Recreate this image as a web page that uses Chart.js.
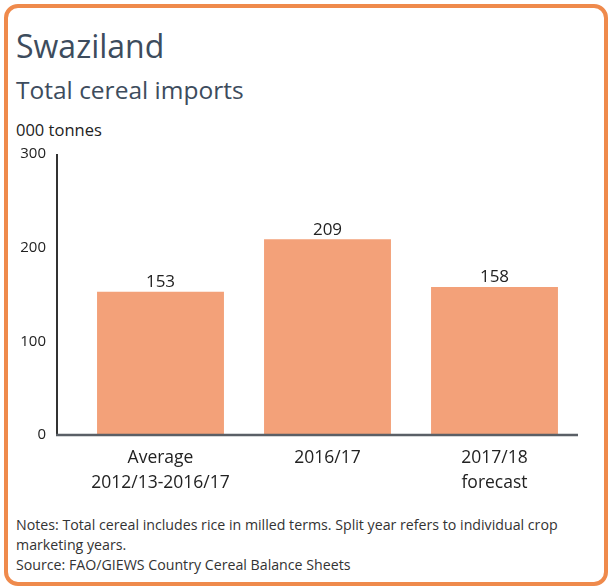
<!DOCTYPE html>
<html>
<head>
<meta charset="utf-8">
<script src="https://cdn.jsdelivr.net/npm/chart.js@4"></script>
<style>
  html, body { margin: 0; padding: 0; background: #fff; }
  #page { position: relative; width: 611px; height: 586px; overflow: hidden; font-family: "Open Sans", sans-serif; }
  #frame { position: absolute; left: 4px; top: 4px; width: 596px; height: 574px; border: 4px solid #ef8a4c; border-radius: 14px; }
  .txt { position: absolute; white-space: nowrap; }
  #title { left: 16px; top: 24px; font-size: 32px; color: #3d4c5d; }
  #subtitle { left: 16px; top: 73px; font-size: 24.5px; color: #3d4c5d; }
  #unit { left: 16px; top: 118px; font-size: 16.5px; color: #222; }
  #notes { left: 16px; top: 515px; font-size: 14.2px; color: #333; line-height: 20px; }
  #chartBox { position: absolute; left: 0; top: 120px; width: 611px; height: 380px; }
</style>
</head>
<body>
<div id="page">
  <div id="frame"></div>
  <div class="txt" id="title">Swaziland</div>
  <div class="txt" id="subtitle">Total cereal imports</div>
  <div class="txt" id="unit">000 tonnes</div>
  <div id="chartBox"><canvas id="barChart"></canvas></div>
  <div class="txt" id="notes">Notes: Total cereal includes rice in milled terms. Split year refers to individual crop<br>marketing years.<br>Source: FAO/GIEWS Country Cereal Balance Sheets</div>
</div>
<script>
const categories = [['Average', '2012/13-2016/17'], '2016/17', ['2017/18', 'forecast']];
const imports = [153, 209, 158];
const yTicks = [0, 100, 200, 300];

// value labels above bars + the two axis lines (y axis sits left of the first category gap)
const extras = {
    id: 'extras',
    afterDatasetsDraw(chart) {
        const ctx = chart.ctx;
        const area = chart.chartArea;
        ctx.save();
        ctx.font = '17px "Open Sans"';
        ctx.fillStyle = '#222';
        ctx.textAlign = 'center';
        ctx.textBaseline = 'bottom';
        chart.getDatasetMeta(0).data.forEach((bar, i) => {
            ctx.fillText(imports[i], bar.x, bar.y - 1);
        });
        const axisX = area.left - 20;
        ctx.strokeStyle = '#333';
        ctx.lineWidth = 2;
        ctx.beginPath();
        ctx.moveTo(axisX, area.top);
        ctx.lineTo(axisX, area.bottom);
        ctx.stroke();
        ctx.strokeStyle = '#5a5f66';
        ctx.lineWidth = 2.5;
        ctx.beginPath();
        ctx.moveTo(axisX - 1, area.bottom);
        ctx.lineTo(area.right, area.bottom);
        ctx.stroke();
        ctx.restore();
    }
};

const ctx = document.getElementById('barChart').getContext('2d');
new Chart(ctx, {
    type: 'bar',
    data: {
        labels: categories,
        datasets: [{
            label: 'Total cereal imports',
            data: imports,
            backgroundColor: '#f3a179',
            categoryPercentage: 1,
            barPercentage: 0.76
        }]
    },
    options: {
        responsive: true,
        maintainAspectRatio: false,
        animation: false,
        layout: { padding: { top: 34, right: 33, left: 0, bottom: 0 } },
        plugins: {
            legend: { display: false },
            tooltip: { enabled: false }
        },
        scales: {
            x: {
                grid: { display: false },
                border: { display: false },
                ticks: {
                    color: '#222',
                    padding: 3,
                    maxRotation: 0,
                    font: { family: 'Open Sans', size: 17.5, lineHeight: 1.4 }
                },
                afterFit(scale) { scale.height = 65; }
            },
            y: {
                min: 0,
                max: 300,
                afterBuildTicks(scale) { scale.ticks = yTicks.map(v => ({ value: v })); },
                grid: { display: false },
                border: { display: false },
                ticks: {
                    color: '#222',
                    padding: 23,
                    font: { family: 'Open Sans', size: 15 }
                },
                afterFit(scale) { scale.width = 77; }
            }
        }
    },
    plugins: [extras]
});
</script>
</body>
</html>
